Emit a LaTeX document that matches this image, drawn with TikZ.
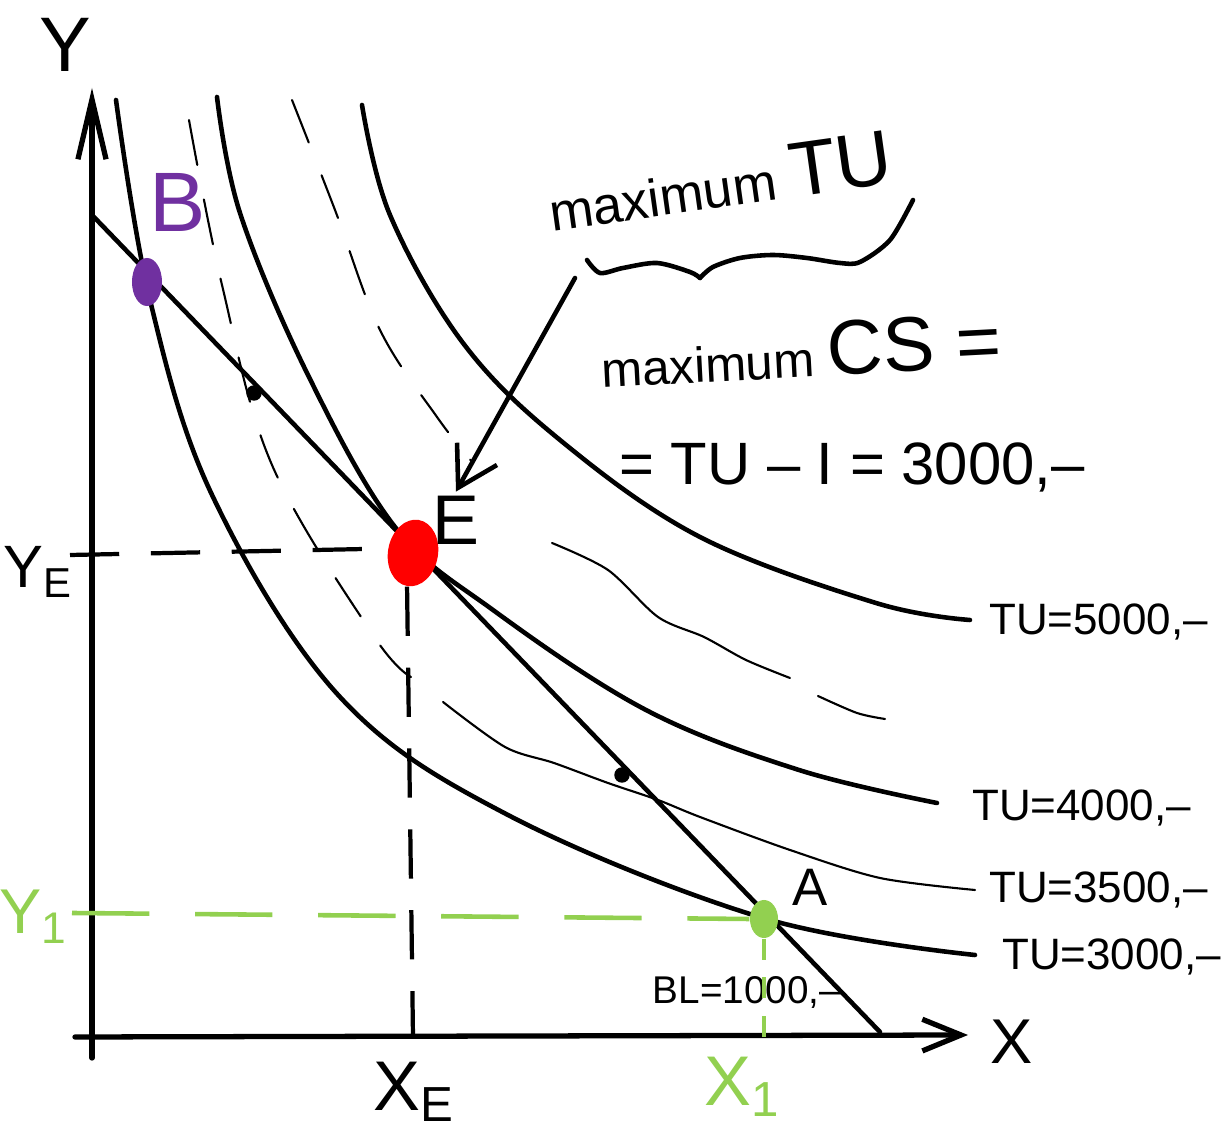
\documentclass[tikz,border=0pt]{standalone}
\usepackage{fontspec}
\setmainfont{Liberation Sans}
\usetikzlibrary{arrows.meta,shapes.geometric}
\definecolor{bpurple}{HTML}{7030A0}
\definecolor{agreen}{HTML}{92D050}
\newcommand{\fs}[1]{\fontsize{#1}{#1}\selectfont}

\begin{document}
\begin{tikzpicture}[x=0.01cm,y=-0.01cm,
    axis/.style={line width=1.5pt,line cap=round},
    curve/.style={line width=1.3pt,line cap=round},
    thincurve/.style={line width=0.6pt,line cap=round},
    handdash/.style={thincurve,dash pattern=on 13pt off 10pt},
    guide/.style={line width=1.2pt,dash pattern=on 14pt off 9pt},
    greenguide/.style={agreen,line width=1.3pt,dash pattern=on 22pt off 13pt},
    greentick/.style={agreen,line width=1.3pt,dash pattern=on 6pt off 5pt},
    blob/.style={ellipse,inner sep=0pt,draw=none},
    lbl/.style={inner sep=1pt}]
  \useasboundingbox (0,0) rectangle (1223,1128);

  \coordinate (O) at (92,1037);
  \draw[axis,-{Straight Barb[length=17pt,width=8pt]}] (92,1058) -- (92,88);
  \draw[axis,-{Straight Barb[length=11pt,width=9pt]}] (75,1037) -- (968,1035);
  \node[lbl,font=\fs{22}] (ylab) at (65,45) {Y};
  \node[lbl,font=\fs{18}] (xlab) at (1012,1042) {X};

  % indifference curves
  \draw[curve] plot[smooth,tension=0.6] coordinates {(116,100) (150,300) (213,497) (340,697)
    (508,815) (763,918) (975,955)};
  \draw[curve] plot[smooth,tension=0.6] coordinates {(217,97) (240,213) (307,373) (395,527)
    (493,610) (646,710) (799,770) (937,803)};
  \draw[curve] plot[smooth,tension=0.6] coordinates {(362,105) (390,215) (463,343) (560,440)
    (700,537) (876,603) (970,620)};
  \draw[handdash] plot[smooth,tension=0.6] coordinates {(189,120) (222,285) (272,465) (373,635) (411,677)};
  \draw[thincurve] plot[smooth] coordinates {(443,702) (505,747) (554,763) (608,783) (658,800)
    (700,817) (790,850) (880,878) (975,890)};
  \draw[handdash] plot[smooth,tension=0.6] coordinates {(292,100) (335,210) (380,330) (437,417) (473,463)};
  \draw[thincurve] plot[smooth] coordinates {(552,543) (608,570) (658,617) (704,637) (746,660) (790,678)};
  \draw[thincurve] plot[smooth] coordinates {(818,696) (857,713) (885,719)};

  \node[lbl,font=\fs{12.5},anchor=west] (tu5) at (985,622) {TU=5000,--};
  \node[lbl,font=\fs{12.5},anchor=west] (tu4) at (968,808) {TU=4000,--};
  \node[lbl,font=\fs{12.5},anchor=west] (tu35) at (985,890) {TU=3500,--};
  \node[lbl,font=\fs{12.5},anchor=west] (tu3) at (998,957) {TU=3000,--};

  % budget line
  \draw[curve] (92,215) -- (880,1032);
  \fill (254,393) circle (2.2pt);
  \fill (622,775) circle (2.2pt);
  \node[lbl,font=\fs{11}] (bl) at (747,992) {BL=1000,--};

  \node[blob,fill=bpurple,minimum width=0.3cm,minimum height=0.48cm] (B) at (147,282) {};
  \node[blob,fill=red,minimum width=0.5cm,minimum height=0.67cm,rotate=-10] (E) at (413,553) {};
  \node[blob,fill=agreen,minimum width=0.28cm,minimum height=0.38cm] (A) at (764,919) {};
  \node[lbl,font=\fs{24},text=bpurple] (Blab) at (178,202) {B};
  \node[lbl,font=\fs{20}] (Elab) at (456,520) {E};
  \node[lbl,font=\fs{15}] (Alab) at (810,887) {A};

  % guide lines
  \node[lbl,font=\fs{17}] (YE) at (38,572) {Y\textsubscript{E}};
  \node[lbl,font=\fs{20}] (XE) at (414,1092) {X\textsubscript{E}};
  \node[lbl,font=\fs{18},text=agreen] (Y1) at (34,917) {Y\textsubscript{1}};
  \node[lbl,font=\fs{20},text=agreen] (X1) at (743,1087) {X\textsubscript{1}};
  \draw[guide] (70,555) -- (E.west);
  \draw[guide] (E.south) -- (E |- O);
  \draw[greenguide] (72,913) -- (A.west);
  \draw[greentick] (A.south) -- (A |- O);

  % annotation
  \node[lbl,font=\fs{15},anchor=base west,rotate=8] (maxtu) at (548,232)
    {maximum {\fs{22}TU}};
  \draw[curve] plot[smooth] coordinates {(587,260) (600,273) (623,268) (657,263) (690,272) (700,278)};
  \draw[curve] plot[smooth] coordinates {(700,278) (713,267) (740,258) (773,255) (807,258)
    (840,263) (860,262) (890,240) (913,200)};
  \node[lbl,font=\fs{14},anchor=base west,rotate=3] (maxcs) at (598,388)
    {maximum {\fs{22}CS =}};
  \node[lbl,font=\fs{17},anchor=base west] (cs) at (615,485) {= TU -- I = 3000,--};
  \coordinate (note) at (575,278);
  \draw[curve,-{Straight Barb[length=11pt,width=13pt]}] (note) -- (Elab.north);
\end{tikzpicture}
\end{document}
